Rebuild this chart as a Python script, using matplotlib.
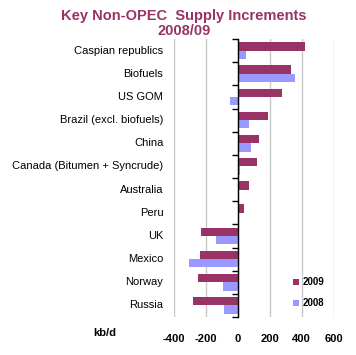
import numpy as np
import matplotlib
matplotlib.use('Agg')
import matplotlib.pyplot as plt
from matplotlib import transforms

plt.rcParams['font.family'] = ['Liberation Sans', 'DejaVu Sans']

regions = ['Caspian republics', 'Biofuels', 'US GOM', 'Brazil (excl. biofuels)', 'China',
           'Canada (Bitumen + Syncrude)', 'Australia', 'Peru', 'UK', 'Mexico', 'Norway', 'Russia']
inc_2009 = [419, 336, 277, 190, 136, 123, 71, 38, -227, -233, -246, -279]
inc_2008 = [52, 360, -46, 71, 84, 15, 6, 8, -135, -304, -91, -83]
xticks = [-400, -200, 0, 200, 400, 600]

c2009 = '#993366'
c2008 = '#9999FF'

fig = plt.figure(figsize=(3.56, 3.55), dpi=100)
ax = fig.add_axes([0.488, 0.107, 0.449, 0.783])

y = np.arange(len(regions))
h = 0.36
ax.barh(y - h / 2, inc_2009, height=h, color=c2009, label='2009')
ax.barh(y + h / 2, inc_2008, height=h, color=c2008, label='2008')

ax.set_xlim(-400, 600)
ax.set_ylim(len(regions) - 0.5, -0.5)
ax.set_xticks(xticks)
ax.set_xticklabels([str(v) for v in xticks], fontsize=8, fontweight='bold')
ax.tick_params(axis='x', length=0, pad=12)
ax.grid(axis='x', color='#c8c8c8', linewidth=1)
ax.set_axisbelow(True)

for s in ['top', 'right', 'bottom']:
    ax.spines[s].set_visible(False)
ax.spines['left'].set_position(('data', 0))
ax.spines['left'].set_linewidth(1)
ax.spines['left'].set_zorder(3)
ax.set_yticks(np.arange(len(regions) + 1) - 0.5)
ax.set_yticklabels([])
ax.tick_params(axis='y', length=4, width=1, direction='out')

trans = transforms.blended_transform_factory(ax.transAxes, ax.transData)
for i, name in enumerate(regions):
    ax.text(-0.065, i, name, transform=trans, ha='right', va='center', fontsize=8)

fig.text(0.262, 0.062, 'kb/d', fontsize=8, fontweight='bold', ha='left', va='center')

fig.suptitle('Key Non-OPEC  Supply Increments\n2008/09', x=0.517, y=0.975,
             fontsize=10.5, fontweight='bold', color=c2009, linespacing=1.12)

ax.legend(loc='lower right', bbox_to_anchor=(1.0, 0.0), frameon=False,
          handlelength=0.6, handleheight=0.6, labelspacing=1.15, handletextpad=0.4,
          prop={'weight': 'bold', 'size': 7})

fig.savefig('out.png', dpi=100)
